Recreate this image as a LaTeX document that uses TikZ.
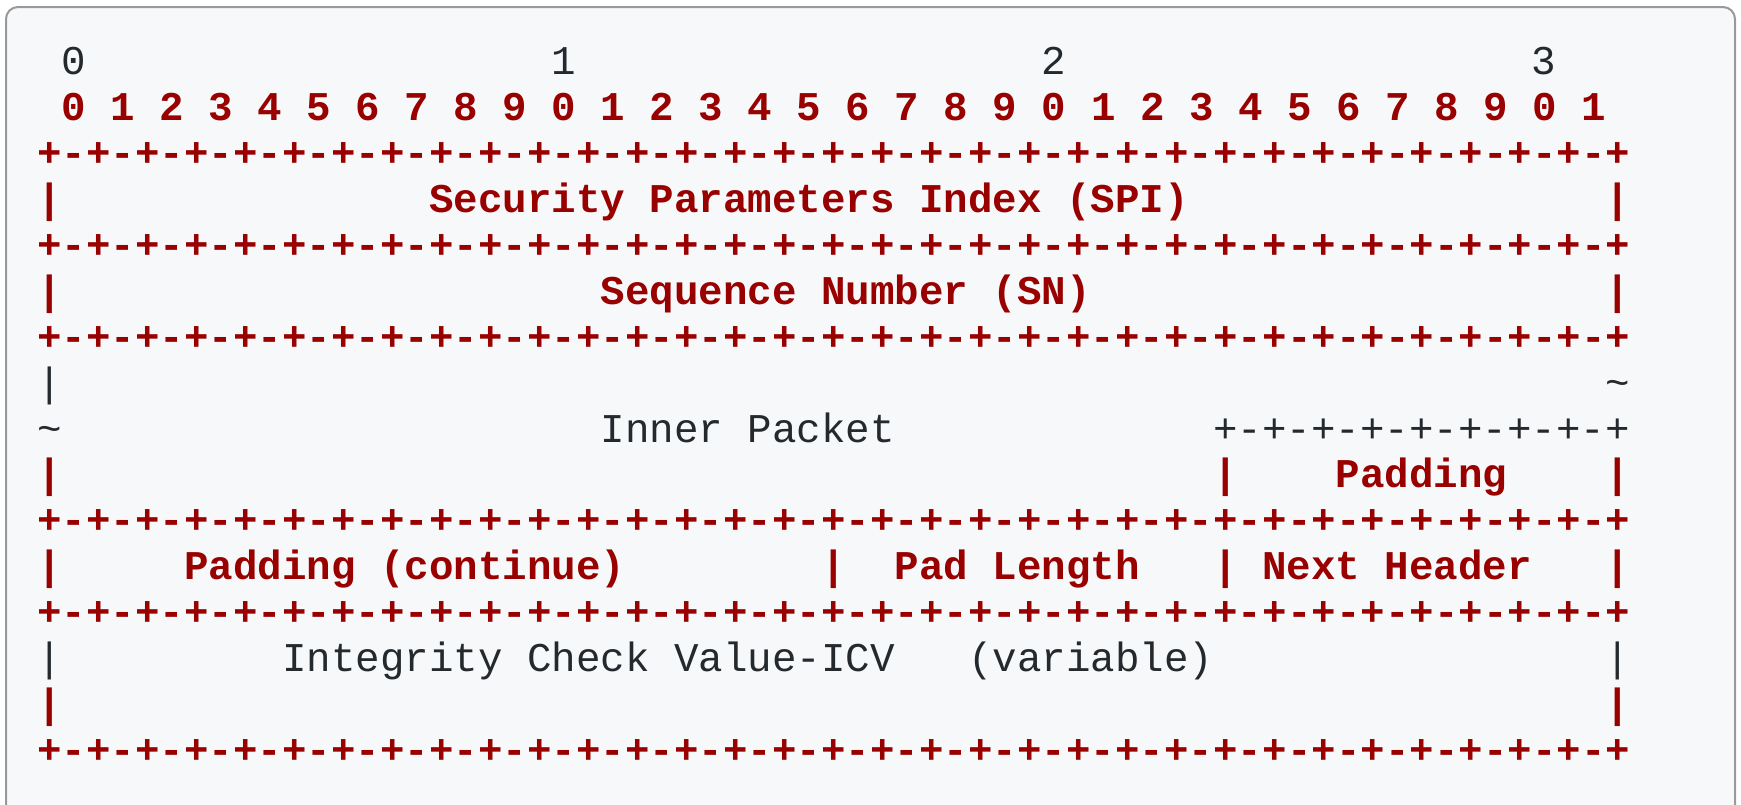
\documentclass[tikz,border=0pt]{standalone}
\usepackage{fontspec}
\newfontfamily\codefont{Liberation Mono}[Ligatures=NoCommon]
\definecolor{kwred}{HTML}{990000}
\definecolor{plain}{HTML}{24292E}
\definecolor{codebg}{HTML}{F6F8FA}
\definecolor{frame}{HTML}{999999}
\newcommand\seg[5]{\node[#4] (#1) at ({37.3+24.5*#3},{74.8+45.9*#2}) {#5};}
\tikzset{
  txt/.style={anchor=base west, inner sep=0pt, outer sep=0pt, font=\codefont\fontsize{20.42}{24}\selectfont},
  red/.style={txt, text=kwred, font=\codefont\fontsize{20.42}{24}\selectfont\bfseries},
  gray/.style={txt, text=plain},
}
\begin{document}
\begin{tikzpicture}[x=0.5pt, y=-0.5pt]
\useasboundingbox (0,0) rectangle (1741,804);
\clip (0,0) rectangle (1741,804);
\fill[white] (0,0) rectangle (1741,804);
\filldraw[fill=codebg, draw=frame, line width=1pt, rounded corners=6pt]
  (6,900) -- (6,7) -- (1735,7) -- (1735,900);
% row 0
\seg{h0}{0}{1}{gray}{0}
\seg{h1}{0}{21}{gray}{1}
\seg{h2}{0}{41}{gray}{2}
\seg{h3}{0}{61}{gray}{3}
% row 1
\seg{bits}{1}{1}{red}{0 1 2 3 4 5 6 7 8 9 0 1 2 3 4 5 6 7 8 9 0 1 2 3 4 5 6 7 8 9 0 1}
% row 2
\seg{b2}{2}{0}{red}{+-+-+-+-+-+-+-+-+-+-+-+-+-+-+-+-+-+-+-+-+-+-+-+-+-+-+-+-+-+-+-+-+}
% row 3
\seg{l3}{3}{0}{red}{|}
\seg{spi}{3}{16}{red}{Security Parameters Index (SPI)}
\seg{r3}{3}{64}{red}{|}
% row 4
\seg{b4}{4}{0}{red}{+-+-+-+-+-+-+-+-+-+-+-+-+-+-+-+-+-+-+-+-+-+-+-+-+-+-+-+-+-+-+-+-+}
% row 5
\seg{l5}{5}{0}{red}{|}
\seg{sn}{5}{23}{red}{Sequence Number (SN)}
\seg{r5}{5}{64}{red}{|}
% row 6
\seg{b6}{6}{0}{red}{+-+-+-+-+-+-+-+-+-+-+-+-+-+-+-+-+-+-+-+-+-+-+-+-+-+-+-+-+-+-+-+-+}
% row 7
\seg{l7}{7}{0}{gray}{|}
\seg{r7}{7}{64}{gray}{\textasciitilde}
% row 8
\seg{l8}{8}{0}{gray}{\textasciitilde}
\seg{inner}{8}{23}{gray}{Inner Packet}
\seg{b8}{8}{48}{gray}{+-+-+-+-+-+-+-+-+}
% row 9
\seg{l9}{9}{0}{red}{|}
\seg{m9}{9}{48}{red}{|}
\seg{pad}{9}{53}{red}{Padding}
\seg{r9}{9}{64}{red}{|}
% row 10
\seg{b10}{10}{0}{red}{+-+-+-+-+-+-+-+-+-+-+-+-+-+-+-+-+-+-+-+-+-+-+-+-+-+-+-+-+-+-+-+-+}
% row 11
\seg{l11}{11}{0}{red}{|}
\seg{padc}{11}{6}{red}{Padding (continue)}
\seg{m11a}{11}{32}{red}{|}
\seg{padlen}{11}{35}{red}{Pad Length}
\seg{m11b}{11}{48}{red}{|}
\seg{nh}{11}{50}{red}{Next Header}
\seg{r11}{11}{64}{red}{|}
% row 12
\seg{b12}{12}{0}{red}{+-+-+-+-+-+-+-+-+-+-+-+-+-+-+-+-+-+-+-+-+-+-+-+-+-+-+-+-+-+-+-+-+}
% row 13
\seg{l13}{13}{0}{gray}{|}
\seg{icv}{13}{10}{gray}{Integrity Check Value-ICV}
\seg{var}{13}{38}{gray}{(variable)}
\seg{r13}{13}{64}{gray}{|}
% row 14
\seg{l14}{14}{0}{red}{|}
\seg{r14}{14}{64}{red}{|}
% row 15
\seg{b15}{15}{0}{red}{+-+-+-+-+-+-+-+-+-+-+-+-+-+-+-+-+-+-+-+-+-+-+-+-+-+-+-+-+-+-+-+-+}
\end{tikzpicture}
\end{document}
